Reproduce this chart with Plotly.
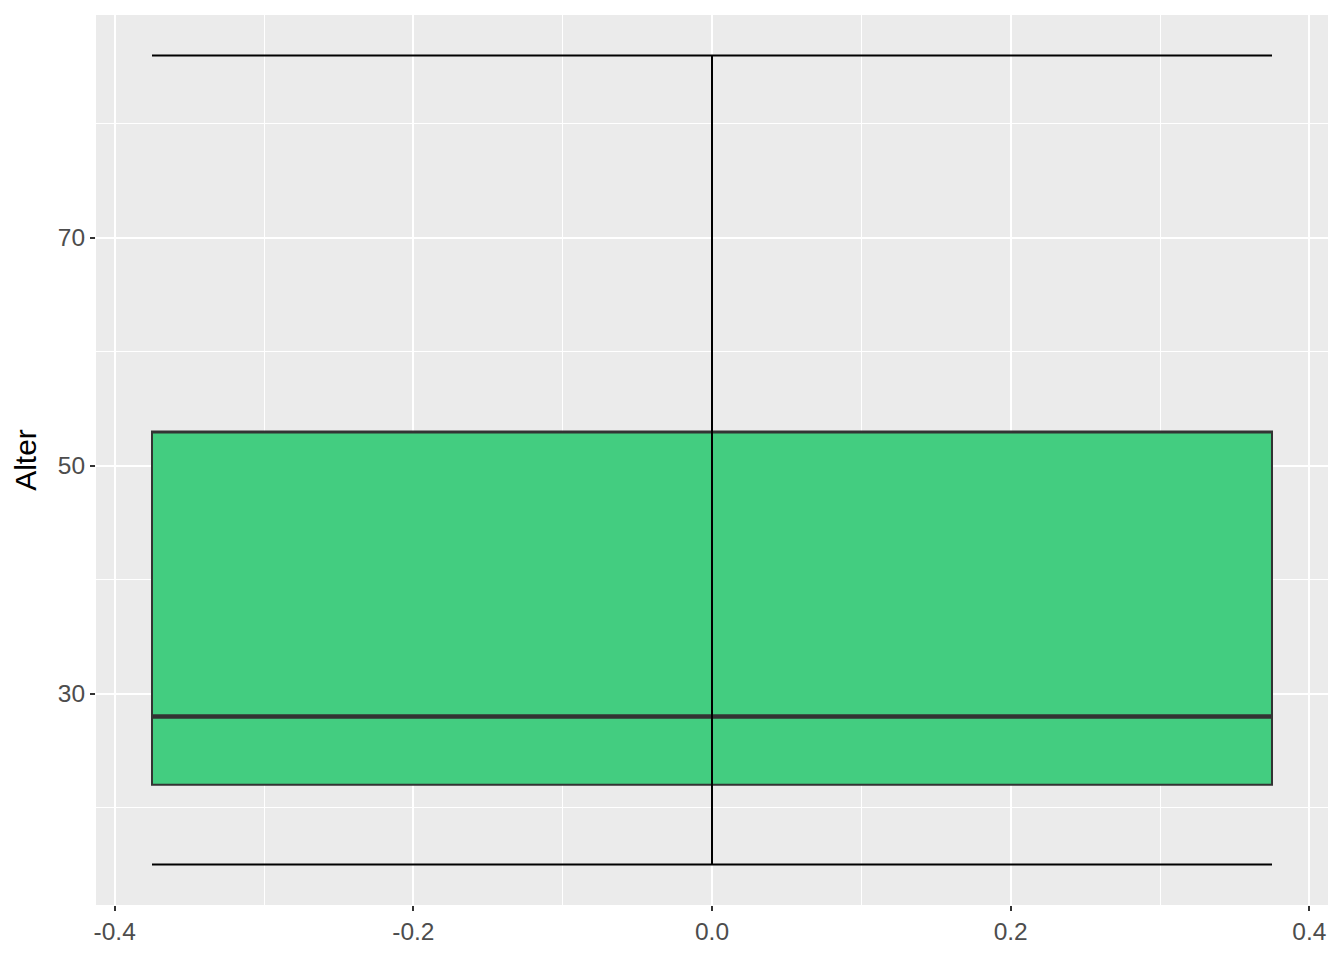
import plotly.graph_objects as go

# data (box statistics)
x_pos = [0.0]
q1 = [22]
median = [28]
q3 = [53]
whisker_low = [15]
whisker_high = [86]
box_width = 0.75

y_ticks = [30, 50, 70]
y_minor = [20, 40, 60, 80]
x_ticks = [-0.4, -0.2, 0.0, 0.2, 0.4]
x_ticklabels = ["-0.4", "-0.2", "0.0", "0.2", "0.4"]
x_minor = [-0.3, -0.1, 0.1, 0.3]

fill = "#43CD80"
half = box_width / 2

fig = go.Figure()

fig.add_trace(go.Box(
    x=x_pos, q1=q1, median=q3, q3=q3,
    lowerfence=q1, upperfence=q3,
    width=box_width, fillcolor=fill,
    line=dict(color="#333333", width=2),
    boxpoints=False, hoverinfo="skip", showlegend=False,
))

# median (thicker, as in ggplot)
mx, my = [], []
for x, m in zip(x_pos, median):
    mx += [x - half, x + half, None]
    my += [m, m, None]
fig.add_trace(go.Scatter(x=mx, y=my, mode="lines",
                         line=dict(color="#333333", width=4.5),
                         hoverinfo="skip", showlegend=False))

# errorbar whiskers (drawn on top of the box)
ex, ey = [], []
for x, lo, hi in zip(x_pos, whisker_low, whisker_high):
    ex += [x, x, None, x - half, x + half, None, x - half, x + half, None]
    ey += [lo, hi, None, hi, hi, None, lo, lo, None]
fig.add_trace(go.Scatter(x=ex, y=ey, mode="lines",
                         line=dict(color="black", width=2),
                         hoverinfo="skip", showlegend=False))

fig.update_layout(
    width=1328, height=944,
    margin=dict(l=88, r=8, t=7, b=47),
    plot_bgcolor="#EBEBEB", paper_bgcolor="white",
    font=dict(family="Liberation Sans, Arial, sans-serif"),
    showlegend=False,
)
fig.update_xaxes(
    range=[-0.4125, 0.4125],
    tickvals=x_ticks, ticktext=x_ticklabels,
    showgrid=True, gridcolor="white", gridwidth=2,
    zeroline=False, showline=False,
    ticks="outside", ticklen=5, tickwidth=2, tickcolor="#333333",
    tickfont=dict(size=24.5, color="#4D4D4D"),
    minor=dict(tickvals=x_minor, showgrid=True, gridcolor="white", gridwidth=1, ticks=""),
)
fig.update_yaxes(
    range=[11.45, 89.55],
    tickvals=y_ticks,
    showgrid=True, gridcolor="white", gridwidth=2,
    zeroline=False, showline=False,
    ticks="outside", ticklen=5, tickwidth=2, tickcolor="#333333",
    tickfont=dict(size=24.5, color="#4D4D4D"),
    minor=dict(tickvals=y_minor, showgrid=True, gridcolor="white", gridwidth=1, ticks=""),
    title=dict(text="Alter", font=dict(size=30, color="black"), standoff=12),
)

fig.write_html("out.html")
